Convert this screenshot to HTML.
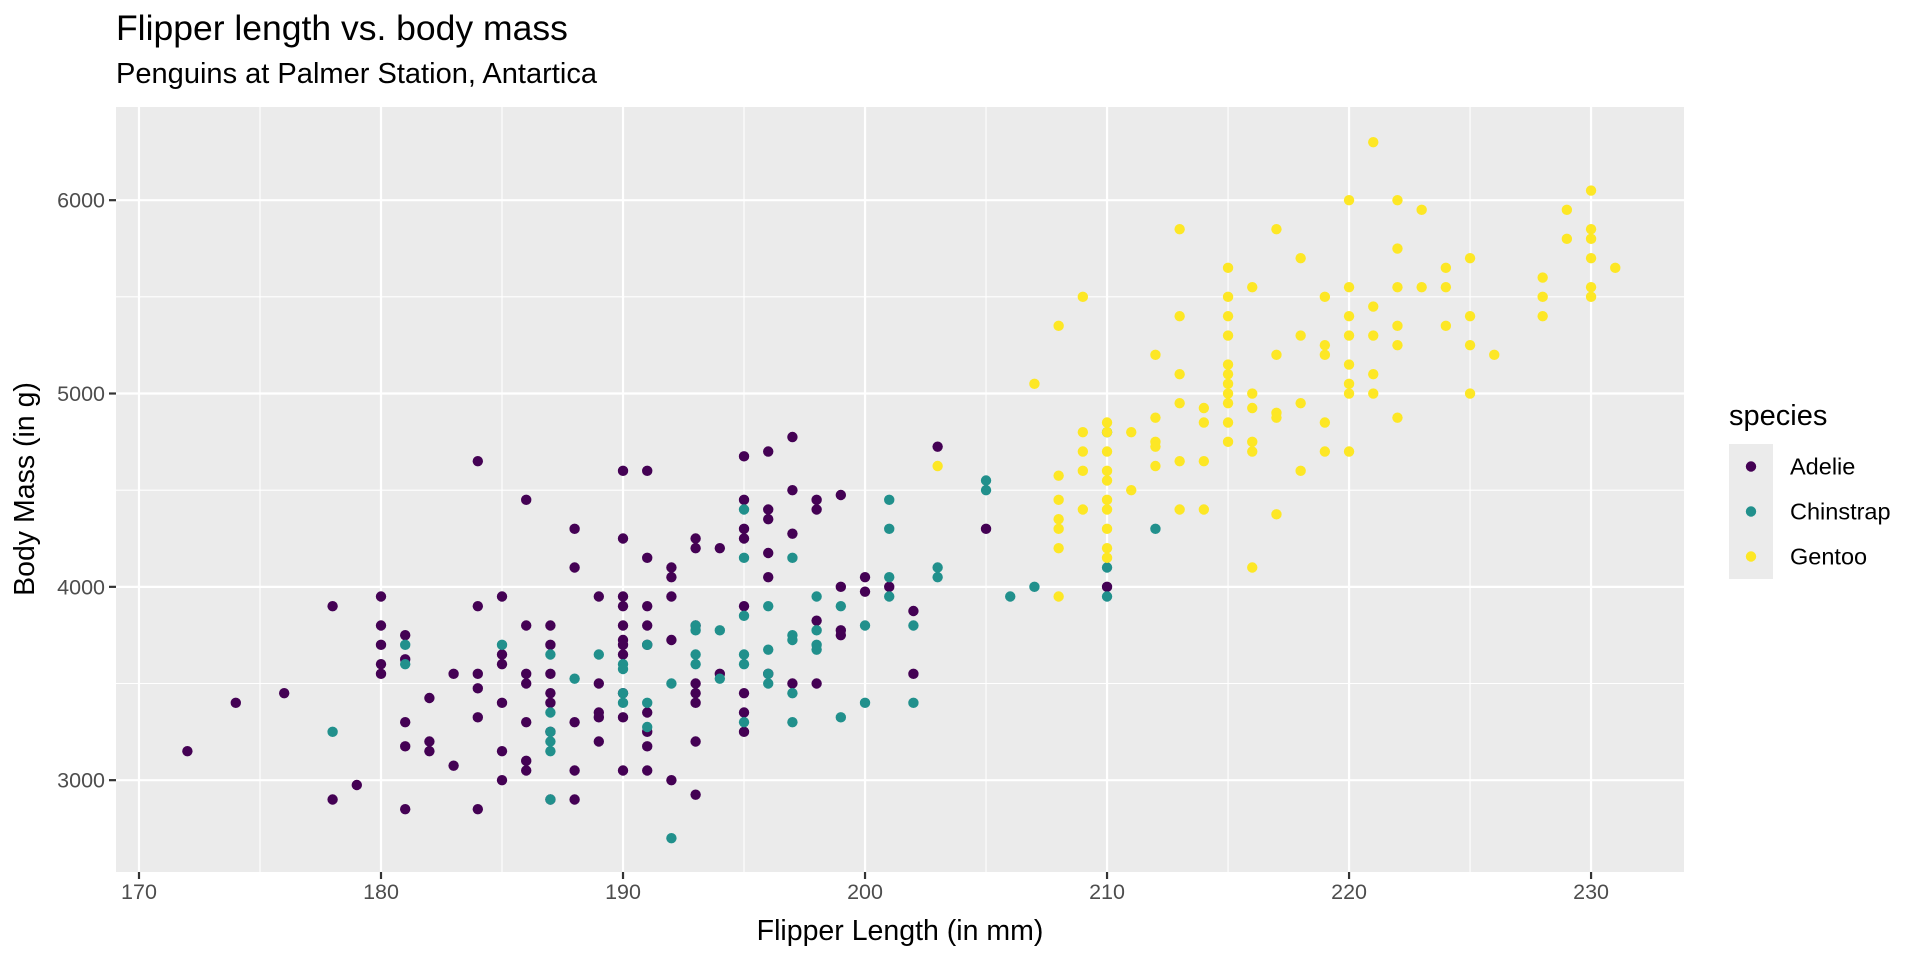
<!DOCTYPE html>
<html><head><meta charset="utf-8"><style>
body{margin:0;background:#fff;}
svg{display:block;font-family:"Liberation Sans",Arial,sans-serif;}
</style></head><body>
<svg id="chart" width="1920" height="960" xmlns="http://www.w3.org/2000/svg">
<text x="116" y="40" font-size="35.5" fill="#000">Flipper length vs. body mass</text>
<text x="116" y="83" font-size="29" fill="#000" textLength="481" lengthAdjust="spacingAndGlyphs">Penguins at Palmer Station, Antartica</text>
<rect x="116" y="107" width="1568" height="765" fill="#EBEBEB"/>
<g id="grid"></g>
<g id="xticks"></g>
<g id="yticks"></g>
<g id="points"></g>
<text x="900" y="940" font-size="28.5" text-anchor="middle" fill="#000">Flipper Length (in mm)</text>
<text x="0" y="0" font-size="28.5" text-anchor="middle" fill="#000" transform="translate(34,489) rotate(-90)">Body Mass (in g)</text>
<g>
<text x="1729" y="425" font-size="29" fill="#000">species</text>
<g id="legend"></g>
</g>
</svg>
<script>
const xTicks=[170,180,190,200,210,220,230];
const yTicks=[3000,4000,5000,6000];
const species=["Adelie","Chinstrap","Gentoo"];
const colors=["#440154","#21908C","#FDE725"];
const adelieFlipper=[172,174,176,178,178,179,180,180,180,180,180,181,181,181,181,181,182,182,182,183,183,184,184,184,184,184,184,185,185,185,185,185,185,186,186,186,186,186,186,186,187,187,187,187,187,187,187,188,188,188,188,188,189,189,189,189,189,190,190,190,190,190,190,190,190,190,190,190,191,191,191,191,191,191,191,191,191,192,192,192,192,192,193,193,193,193,193,193,193,193,194,194,195,195,195,195,195,195,195,195,196,196,196,196,196,196,197,197,197,197,198,198,198,198,199,199,199,199,200,200,201,202,202,203,205,210];
const adelieMass=[3150,3400,3450,3900,2900,2975,3950,3800,3700,3600,3550,3750,3625,3300,3175,2850,3425,3200,3150,3550,3075,4650,3900,3550,3475,3325,2850,3950,3650,3600,3400,3150,3000,4450,3800,3550,3500,3300,3100,3050,3800,3700,3550,3450,3400,3250,2900,4300,4100,3300,3050,2900,3950,3500,3350,3325,3200,4600,4250,3950,3900,3800,3725,3700,3650,3450,3325,3050,4600,4150,3900,3800,3700,3350,3250,3175,3050,4100,4050,3950,3725,3000,4250,4200,3800,3500,3450,3400,3200,2925,4200,3550,4675,4450,4300,4250,3900,3450,3350,3250,4700,4400,4350,4175,4050,3550,4775,4500,4275,3500,4450,4400,3825,3500,4475,4000,3775,3750,4050,3975,4000,3875,3550,4725,4300,4000];
const chinFlipper=[178,181,181,185,187,187,187,187,187,187,188,189,190,190,190,190,191,191,191,192,192,193,193,193,193,194,194,195,195,195,195,195,195,196,196,196,196,197,197,197,197,197,198,198,198,198,199,199,200,200,201,201,201,201,202,202,203,203,205,205,206,207,210,210,210,212];
const chinMass=[3250,3700,3600,3700,3650,3350,3250,3200,3150,2900,3525,3650,3600,3575,3450,3400,3700,3400,3275,3500,2700,3800,3775,3650,3600,3775,3525,4400,4150,3850,3650,3600,3300,3900,3675,3550,3500,4150,3750,3725,3450,3300,3950,3775,3700,3675,3900,3325,3800,3400,4450,4300,4050,3950,3800,3400,4100,4050,4550,4500,3950,4000,4800,4100,3950,4300];
const gentooFlipper=[203,207,208,208,208,208,208,208,208,209,209,209,209,209,210,210,210,210,210,210,210,210,210,210,211,211,212,212,212,212,212,213,213,213,213,213,213,214,214,214,214,215,215,215,215,215,215,215,215,215,215,215,216,216,216,216,216,216,217,217,217,217,217,218,218,218,218,219,219,219,219,219,220,220,220,220,220,220,220,220,221,221,221,221,221,222,222,222,222,222,222,223,223,224,224,224,225,225,225,225,226,228,228,228,229,229,230,230,230,230,230,230,231];
const gentooMass=[4625,5050,5350,4575,4450,4300,4350,4200,3950,5500,4800,4700,4600,4400,4850,4800,4700,4600,4550,4450,4400,4300,4200,4150,4800,4500,5200,4875,4750,4725,4625,5850,5400,5100,4950,4650,4400,4925,4850,4650,4400,5650,5500,5400,5300,5150,5100,5050,5000,4950,4850,4750,5550,5000,4925,4750,4700,4100,5850,5200,4900,4875,4375,5700,5300,4950,4600,5500,5250,5200,4850,4700,6000,5550,5400,5300,5150,5050,5000,4700,6300,5450,5300,5100,5000,6000,5750,5550,5350,5250,4875,5950,5550,5650,5550,5350,5700,5400,5250,5000,5200,5600,5500,5400,5950,5800,6050,5850,5800,5700,5550,5500,5650];

const NS="http://www.w3.org/2000/svg";
const X0=116,X1=1684,Y0=107,Y1=872;
const xMin=169.05,xMax=233.84,yMin=2525,yMax=6482;
function sx(v){return X0+(v-xMin)/(xMax-xMin)*(X1-X0);}
function sy(v){return Y1-(v-yMin)/(yMax-yMin)*(Y1-Y0);}
function mk(tag,attrs,parent){const e=document.createElementNS(NS,tag);for(const k in attrs)e.setAttribute(k,attrs[k]);parent.appendChild(e);return e;}
const grid=document.getElementById('grid');
for(let i=0;i<xTicks.length-1;i++){const m=(xTicks[i]+xTicks[i+1])/2;
 const l=mk('line',{x1:sx(m),x2:sx(m),y1:Y0,y2:Y1,stroke:'#fff','stroke-width':1.1},grid);
 
 }
for(let i=0;i<yTicks.length-1;i++){const m=(yTicks[i]+yTicks[i+1])/2;
 const l=mk('line',{x1:X0,x2:X1,y1:sy(m),y2:sy(m),stroke:'#fff','stroke-width':1.1},grid);
 
 }
const xt=document.getElementById('xticks');
xTicks.forEach(t=>{const x=sx(t);
 const g=mk('line',{x1:x,x2:x,y1:Y0,y2:Y1,stroke:'#fff','stroke-width':2.2},grid);
 
 
 const tk=mk('line',{x1:x,x2:x,y1:Y1,y2:Y1+7,stroke:'#333','stroke-width':2.2},xt);
 
 
 const tx=mk('text',{x:x,y:Y1+27,'font-size':21.5,'text-anchor':'middle',fill:'#4D4D4D'},xt);
 tx.textContent=t;
 
 });
const yt=document.getElementById('yticks');
yTicks.forEach(t=>{const y=sy(t);
 const g=mk('line',{x1:X0,x2:X1,y1:y,y2:y,stroke:'#fff','stroke-width':2.2},grid);
 
 
 const tk=mk('line',{x1:X0-7,x2:X0,y1:y,y2:y,stroke:'#333','stroke-width':2.2},yt);
 
 
 const tx=mk('text',{x:X0-11,y:y+7.5,'font-size':21.5,'text-anchor':'end',fill:'#4D4D4D'},yt);
 tx.textContent=t;
 
 });
const pts=document.getElementById('points');
const series=[[adelieFlipper,adelieMass],[chinFlipper,chinMass],[gentooFlipper,gentooMass]];
series.forEach((s,si)=>{s[0].forEach((f,i)=>{
 const c=mk('circle',{cx:sx(f),cy:sy(s[1][i]),r:5.2,fill:colors[si]},pts);
 
 });});
const lg=document.getElementById('legend');
const bg=mk('rect',{x:1729,y:444,width:44,height:135,fill:'#EBEBEB'},lg);


species.forEach((sp,i)=>{const cy=466.5+i*45;
 const c=mk('circle',{cx:1751,cy:cy,r:5.2,fill:colors[i]},lg);
 
 
 const t=mk('text',{x:1790,y:cy+8,'font-size':23.5,fill:'#000'},lg);
 t.textContent=sp;
 
 });
</script>
</body></html>
